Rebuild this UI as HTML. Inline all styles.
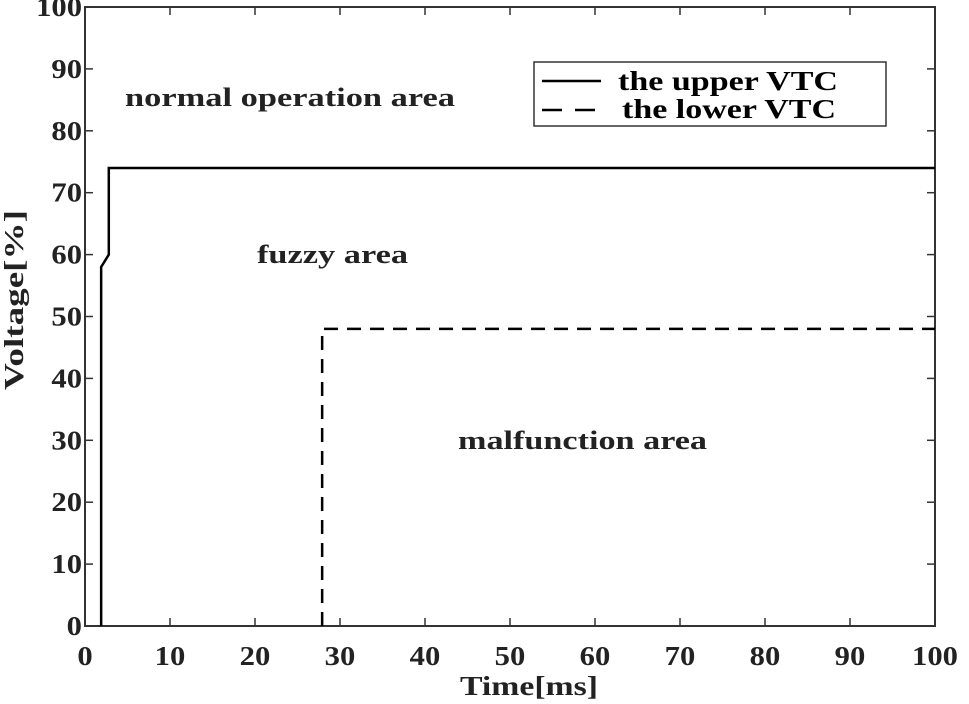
<!DOCTYPE html>
<html><head><meta charset="utf-8"><style>
body{margin:0;background:#fff}
svg text{font-family:"Liberation Serif",serif;font-weight:bold;fill:#222}
</style></head><body>
<svg id="chart" width="969" height="699" xmlns="http://www.w3.org/2000/svg">
<g id="axes"></g>
<g id="series"></g>
<text x="0" y="0" font-size="27" text-anchor="middle" textLength="180" lengthAdjust="spacingAndGlyphs" transform="translate(23,300) rotate(-90)">Voltage[%]</text>
<text x="529" y="695" font-size="27" text-anchor="middle" textLength="138" lengthAdjust="spacingAndGlyphs">Time[ms]</text>
<text x="125" y="106" font-size="26" textLength="330" lengthAdjust="spacingAndGlyphs">normal operation area</text>
<text x="257" y="263" font-size="26" textLength="151" lengthAdjust="spacingAndGlyphs">fuzzy area</text>
<text x="458" y="449" font-size="26" textLength="249" lengthAdjust="spacingAndGlyphs">malfunction area</text>
<g>
<rect x="534" y="62" width="352" height="64" fill="#fff" stroke="#333" stroke-width="1.5"/>
<line x1="542" y1="81" x2="601" y2="81" stroke="#000" stroke-width="2.5"/>
<text x="618" y="90" font-size="27" textLength="220" lengthAdjust="spacingAndGlyphs" style="fill:#000">the upper VTC</text>
<line x1="542" y1="110" x2="601" y2="110" stroke="#000" stroke-width="2.5" stroke-dasharray="20,13"/>
<text x="622" y="118" font-size="27" textLength="214" lengthAdjust="spacingAndGlyphs" style="fill:#000">the lower VTC</text>
</g>
</svg>
<script>
const xTicks=[0,10,20,30,40,50,60,70,80,90,100];
const yTicks=[0,10,20,30,40,50,60,70,80,90,100];
const upperT=[1.9,1.9,2.8,2.8,100];
const upperV=[0,58,60,74,74];
const lowerT=[27.9,27.9,100];
const lowerV=[0,48,48];
const X0=85,X1=935,Y0=626,Y1=7;
const sx=t=>X0+(t-0)/100*(X1-X0);
const sy=v=>Y0-(v-0)/100*(Y0-Y1);
const NS="http://www.w3.org/2000/svg";
const axes=document.getElementById('axes'),series=document.getElementById('series');
function mk(tag,attrs,parent){const e=document.createElementNS(NS,tag);for(const k in attrs)e.setAttribute(k,attrs[k]);parent.appendChild(e);return e;}
const frame=mk('rect',{x:X0,y:Y1,width:X1-X0,height:Y0-Y1,fill:'none',stroke:'#333','stroke-width':2},axes);


xTicks.forEach(t=>{
  const l=mk('line',{x1:sx(t),x2:sx(t),y1:Y0,y2:Y0-8,stroke:'#333','stroke-width':1.5},axes);
  
  
  const l2=mk('line',{x1:sx(t),x2:sx(t),y1:Y1,y2:Y1+8,stroke:'#333','stroke-width':1.5},axes);
  
  
  const s=String(t);
  const tx=mk('text',{x:sx(t),y:665,'font-size':27,'text-anchor':'middle',textLength:s.length*15.3,lengthAdjust:'spacingAndGlyphs'},axes);
  tx.textContent=s;
  
  
});
yTicks.forEach(v=>{
  const l=mk('line',{x1:X0,x2:X0+8,y1:sy(v),y2:sy(v),stroke:'#333','stroke-width':1.5},axes);
  
  
  const l2=mk('line',{x1:X1,x2:X1-8,y1:sy(v),y2:sy(v),stroke:'#333','stroke-width':1.5},axes);
  
  
  const s=String(v);
  const tx=mk('text',{x:82,y:sy(v)+9,'font-size':27,'text-anchor':'end',textLength:s.length*15.3,lengthAdjust:'spacingAndGlyphs'},axes);
  tx.textContent=s;
  
  
});
const up=mk('polyline',{points:upperT.map((t,i)=>sx(t)+','+sy(upperV[i])).join(' '),fill:'none',stroke:'#000','stroke-width':2.5},series);


const lo=mk('polyline',{points:lowerT.map((t,i)=>sx(t)+','+sy(lowerV[i])).join(' '),fill:'none',stroke:'#000','stroke-width':2.5,'stroke-dasharray':'14,9'},series);


</script>
</body></html>
